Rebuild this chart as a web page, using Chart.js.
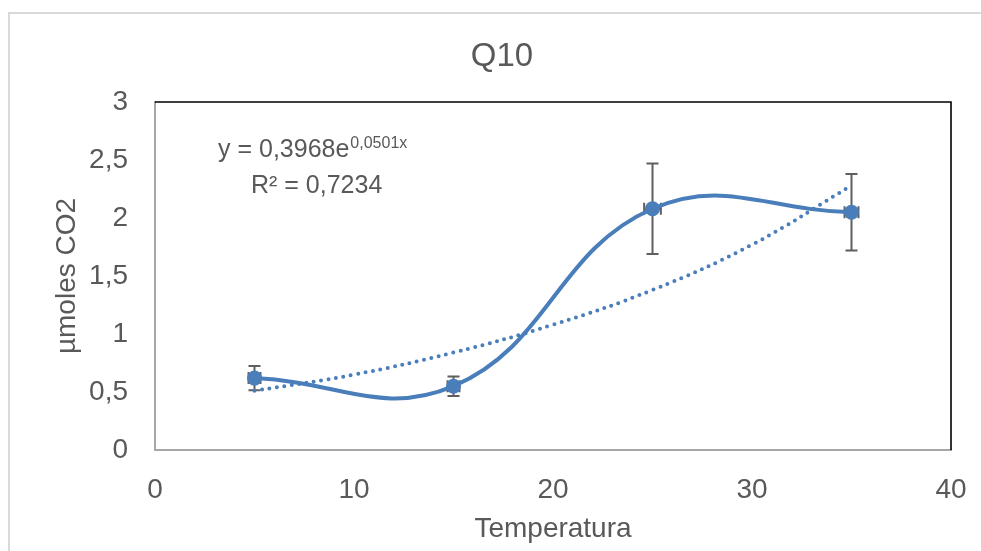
<!DOCTYPE html>
<html>
<head>
<meta charset="utf-8">
<script src="https://cdn.jsdelivr.net/npm/chart.js@4/dist/chart.umd.min.js"></script>
<style>
  html, body { margin: 0; padding: 0; background: #ffffff; }
  #wrap { width: 981px; height: 551px; position: relative; }
</style>
</head>
<body>
<div id="wrap"><canvas id="c" width="981" height="551"></canvas></div>
<script>
// ---- data ----
const temperatures = [5, 15, 25, 35];
const co2Means = [0.62, 0.55, 2.08, 2.05];
const co2Errors = [0.105, 0.084, 0.39, 0.33];
const tempErrors = [0.3, 0.3, 0.42, 0.35];
const trendTemps = [5, 10, 15, 20, 25, 30, 35];
const trendValues = [0.51, 0.65, 0.84, 1.08, 1.38, 1.77, 2.28];
const xTickValues = [0, 10, 20, 30, 40];
const yTickValues = [0, 0.5, 1, 1.5, 2, 2.5, 3];
const chartTitle = 'Q10';
const xTitle = 'Temperatura';
const yTitle = 'µmoles CO2';
const equationMain = 'y = 0,3968e';
const equationExp = '0,0501x';
const equationR2 = 'R² = 0,7234';

const FONT = "'Liberation Sans', Arial, sans-serif";
const TEXT = '#595959';
const BLUE = '#4A7EBB';

const mainPoints = temperatures.map((t, i) => ({ x: t, y: co2Means[i] }));
const trendPoints = trendTemps.map((t, i) => ({ x: t, y: trendValues[i] }));
const fmt = v => String(v).replace('.', ',');

const frame = {
  id: 'frame',
  beforeDraw(chart) {
    const ctx = chart.ctx;
    ctx.save();
    ctx.fillStyle = '#ffffff';
    ctx.fillRect(0, 0, chart.width, chart.height);
    ctx.strokeStyle = '#D9D9D9';
    ctx.lineWidth = 2;
    ctx.strokeRect(9, 13, chart.width + 20, chart.height + 20);
    ctx.restore();
  },
  beforeDatasetsDraw(chart) {
    const ctx = chart.ctx;
    const a = chart.chartArea;
    ctx.save();
    ctx.strokeStyle = '#000000';
    ctx.lineWidth = 1.6;
    ctx.beginPath();
    ctx.moveTo(a.left, a.top);
    ctx.lineTo(a.right, a.top);
    ctx.lineTo(a.right, a.bottom);
    ctx.stroke();
    // error bars
    const xs = chart.scales.x, ys = chart.scales.y;
    ctx.strokeStyle = '#5F5F5F';
    ctx.lineWidth = 2;
    temperatures.forEach((t, i) => {
      const px = xs.getPixelForValue(t);
      const py = ys.getPixelForValue(co2Means[i]);
      const yt = ys.getPixelForValue(co2Means[i] + co2Errors[i]);
      const yb = ys.getPixelForValue(co2Means[i] - co2Errors[i]);
      const xl = xs.getPixelForValue(t - tempErrors[i]);
      const xr = xs.getPixelForValue(t + tempErrors[i]);
      ctx.beginPath();
      ctx.moveTo(px, yt); ctx.lineTo(px, yb);
      ctx.moveTo(px - 6, yt); ctx.lineTo(px + 6, yt);
      ctx.moveTo(px - 6, yb); ctx.lineTo(px + 6, yb);
      ctx.moveTo(xl, py); ctx.lineTo(xr, py);
      ctx.moveTo(xl, py - 6); ctx.lineTo(xl, py + 6);
      ctx.moveTo(xr, py - 6); ctx.lineTo(xr, py + 6);
      ctx.stroke();
    });
    ctx.restore();
  },
  afterDraw(chart) {
    const ctx = chart.ctx;
    ctx.save();
    ctx.fillStyle = TEXT;
    // chart title
    ctx.textAlign = 'center';
    ctx.textBaseline = 'middle';
    ctx.font = '33px ' + FONT;
    ctx.fillText(chartTitle, 502, 57);
    // trendline equation
    ctx.textBaseline = 'alphabetic';
    ctx.textAlign = 'left';
    ctx.font = '25px ' + FONT;
    ctx.fillText(equationMain, 218, 157);
    const w = ctx.measureText(equationMain).width;
    ctx.font = '16px ' + FONT;
    ctx.fillText(equationExp, 218 + w + 1, 148);
    ctx.font = '25px ' + FONT;
    ctx.fillText(equationR2, 251, 193);
    ctx.restore();
  }
};

new Chart(document.getElementById('c'), {
  type: 'scatter',
  data: {
    datasets: [
      {
        label: 'Serie',
        data: mainPoints,
        showLine: true,
        borderColor: BLUE,
        backgroundColor: BLUE,
        borderWidth: 4,
        tension: 0.42,
        pointRadius: 7.5,
        pointBackgroundColor: BLUE,
        pointBorderColor: BLUE,
        pointBorderWidth: 0
      },
      {
        label: 'Exponencial',
        data: trendPoints,
        showLine: true,
        borderColor: BLUE,
        borderWidth: 4,
        borderDash: [0, 7.5],
        borderCapStyle: 'round',
        tension: 0.4,
        pointRadius: 0
      }
    ]
  },
  options: {
    responsive: false,
    animation: false,
    devicePixelRatio: 1,
    layout: { padding: { left: 0, right: 30, top: 102, bottom: 0 } },
    plugins: {
      legend: { display: false },
      tooltip: { enabled: false },
      title: { display: false }
    },
    scales: {
      x: {
        type: 'linear',
        min: 0, max: 40,
        afterBuildTicks: s => { s.ticks = xTickValues.map(v => ({ value: v })); },
        afterFit: s => { s.height = 101; s.paddingLeft = 0; s.paddingRight = 0; },
        grid: { display: false, drawTicks: false },
        border: { display: true, color: '#A6A6A6', width: 2 },
        ticks: { color: TEXT, padding: 23, font: { family: FONT, size: 28 }, callback: v => fmt(v), maxRotation: 0 },
        title: { display: true, text: xTitle, color: TEXT, font: { family: FONT, size: 28 }, padding: { top: 0, bottom: 5 } }
      },
      y: {
        type: 'linear',
        min: 0, max: 3,
        afterBuildTicks: s => { s.ticks = yTickValues.map(v => ({ value: v })); },
        afterFit: s => { s.width = 155; s.paddingTop = 0; s.paddingBottom = 0; },
        grid: { display: false, drawTicks: false },
        border: { display: true, color: '#A6A6A6', width: 2 },
        ticks: { color: TEXT, padding: 27, font: { family: FONT, size: 28 }, callback: v => fmt(v) },
        title: { display: true, text: yTitle, color: TEXT, font: { family: FONT, size: 28 }, padding: { top: 50, bottom: 0 } }
      }
    }
  },
  plugins: [frame]
});
</script>
</body>
</html>
